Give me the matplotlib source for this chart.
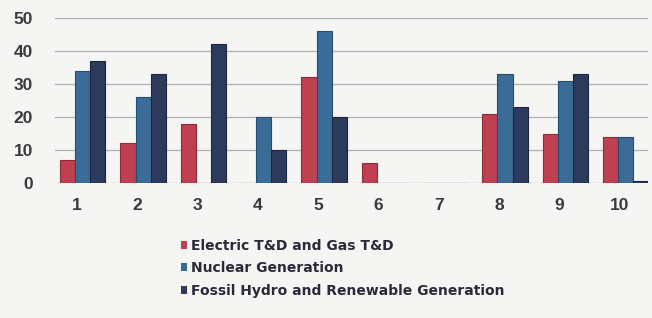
import numpy as np
import matplotlib
matplotlib.use('Agg')
import matplotlib.pyplot as plt
from matplotlib.patches import Patch

categories = [1, 2, 3, 4, 5, 6, 7, 8, 9, 10]
electric_td = [7, 12, 18, 0, 32, 6, 0, 21, 15, 14]
nuclear = [34, 26, 0, 20, 46, 0, 0, 33, 31, 14]
fossil_hydro = [37, 33, 42, 10, 20, 0, 0, 23, 33, 0.6]
series_names = ['Electric T&D and Gas T&D', 'Nuclear Generation',
                'Fossil Hydro and Renewable Generation']

colors = ['#bf4050', '#3b6c97', '#2c3a5e']
edge_colors = ['#8e2c38', '#284d6e', '#1c2640']

plt.rcParams['font.family'] = ['Liberation Sans', 'DejaVu Sans']

fig = plt.figure(figsize=(6.52, 3.18), dpi=100, facecolor='#f5f5f3')
ax = fig.add_axes([55 / 652, 1 - 183 / 318, 593 / 652, 165 / 318])
ax.set_facecolor('#f5f5f3')

x = np.array(categories, dtype=float)
w = 0.25
offset = 0.1
for i, vals in enumerate([electric_td, nuclear, fossil_hydro]):
    ax.bar(x + offset + (i - 1) * w, vals, width=w, color=colors[i],
           edgecolor=edge_colors[i], linewidth=0.8, zorder=3)

ax.set_xlim(0.64, 10.47)
ax.set_ylim(0, 50)
ax.set_yticks([0, 10, 20, 30, 40, 50])
ax.set_xticks(categories)
ax.grid(axis='y', color='#b0b0b0', linewidth=0.9, zorder=0)
for s in ax.spines.values():
    s.set_visible(False)
ax.tick_params(axis='both', length=0, labelsize=12.5, colors='#3a3a3a')
ax.tick_params(axis='y', pad=16)
ax.tick_params(axis='x', pad=11)
for lab in ax.get_xticklabels() + ax.get_yticklabels():
    lab.set_fontweight('bold')

handles = [Patch(facecolor=c, edgecolor='none') for c in colors]
leg = fig.legend(handles, series_names, loc='upper left',
                 bbox_to_anchor=(168 / 652, 1 - 226 / 318), frameon=False,
                 prop={'family': 'DejaVu Sans', 'size': 10, 'weight': 'bold'},
                 handlelength=0.5, handleheight=0.5, handletextpad=0.25,
                 labelspacing=0.62)
for t in leg.get_texts():
    t.set_color('#2a2a3a')

fig.savefig('out.png', dpi=100, facecolor=fig.get_facecolor())
